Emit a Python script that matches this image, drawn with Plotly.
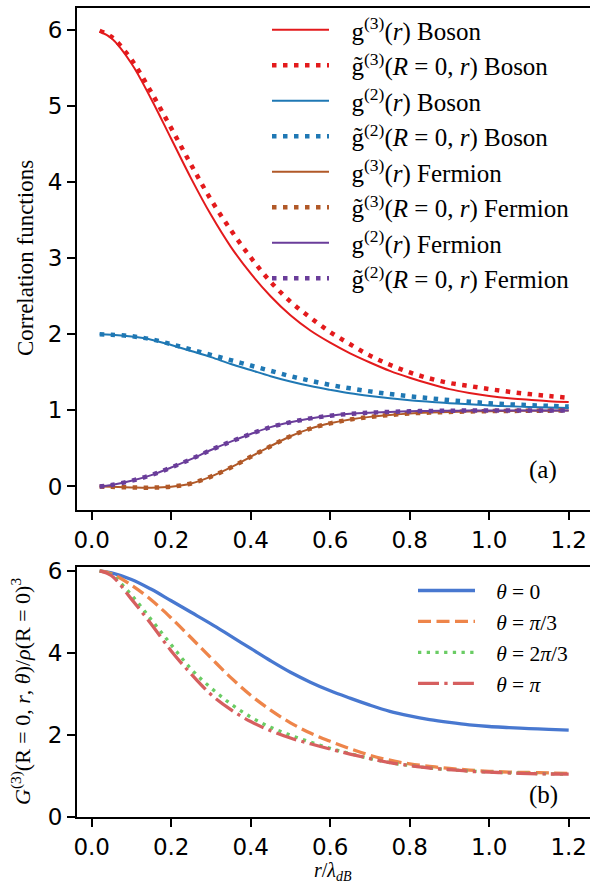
import plotly.graph_objects as go

# ---------------- data ----------------
r = [0.02, 0.05, 0.10, 0.15, 0.20, 0.25, 0.30, 0.35, 0.40, 0.45, 0.50, 0.55, 0.60,
     0.65, 0.70, 0.75, 0.80, 0.85, 0.90, 0.95, 1.00, 1.05, 1.10, 1.15, 1.20]

g3_boson = [5.98, 5.89, 5.56, 5.09, 4.57, 4.05, 3.57, 3.15, 2.80, 2.50, 2.25, 2.05, 1.89,
            1.75, 1.63, 1.52, 1.43, 1.35, 1.28, 1.23, 1.19, 1.16, 1.14, 1.12, 1.11]
g3t_boson = [5.99, 5.91, 5.61, 5.18, 4.71, 4.23, 3.77, 3.37, 3.01, 2.69, 2.43, 2.22, 2.03,
             1.87, 1.72, 1.60, 1.50, 1.42, 1.36, 1.32, 1.28, 1.245, 1.215, 1.19, 1.165]
g2_boson = [2.00, 1.995, 1.97, 1.93, 1.86, 1.78, 1.70, 1.61, 1.53, 1.45, 1.38, 1.32, 1.27,
            1.225, 1.19, 1.16, 1.135, 1.115, 1.095, 1.08, 1.065, 1.055, 1.045, 1.037, 1.03]
g2t_boson = [2.00, 1.995, 1.975, 1.935, 1.87, 1.80, 1.73, 1.66, 1.59, 1.52, 1.45, 1.39, 1.335,
             1.29, 1.25, 1.215, 1.185, 1.16, 1.135, 1.115, 1.095, 1.08, 1.07, 1.06, 1.05]
g3_fermion = [0.0, -0.005, -0.012, -0.015, -0.002, 0.04, 0.13, 0.25, 0.39, 0.53, 0.66, 0.76, 0.83,
              0.88, 0.915, 0.94, 0.96, 0.972, 0.98, 0.986, 0.99, 0.993, 0.995, 0.997, 0.998]
g3t_fermion = [0.0, -0.005, -0.012, -0.015, -0.002, 0.04, 0.13, 0.25, 0.39, 0.53, 0.66, 0.76, 0.83,
               0.88, 0.915, 0.94, 0.96, 0.972, 0.98, 0.986, 0.99, 0.993, 0.995, 0.997, 0.998]
g2_fermion = [0.0, 0.02, 0.075, 0.15, 0.25, 0.36, 0.48, 0.59, 0.69, 0.78, 0.845, 0.895, 0.93,
              0.955, 0.97, 0.98, 0.988, 0.993, 0.996, 0.998, 1.0, 1.0, 1.0, 1.0, 1.0]
g2t_fermion = [0.0, 0.02, 0.075, 0.15, 0.25, 0.36, 0.48, 0.59, 0.69, 0.78, 0.845, 0.895, 0.93,
               0.955, 0.97, 0.98, 0.988, 0.993, 0.996, 0.998, 1.0, 1.0, 1.0, 1.0, 1.0]

G3_theta0 = [6.00, 5.95, 5.79, 5.55, 5.27, 4.99, 4.71, 4.41, 4.11, 3.81, 3.53, 3.29, 3.08,
             2.90, 2.73, 2.58, 2.47, 2.38, 2.31, 2.25, 2.21, 2.185, 2.16, 2.14, 2.12]
G3_theta_pi3 = [6.00, 5.93, 5.65, 5.29, 4.85, 4.37, 3.88, 3.40, 2.97, 2.61, 2.30, 2.05, 1.85,
                1.67, 1.51, 1.39, 1.30, 1.24, 1.19, 1.15, 1.12, 1.10, 1.09, 1.08, 1.07]
G3_theta_2pi3 = [6.00, 5.90, 5.41, 4.81, 4.20, 3.61, 3.15, 2.76, 2.44, 2.19, 2.00, 1.83, 1.68,
                 1.55, 1.43, 1.33, 1.26, 1.20, 1.16, 1.13, 1.10, 1.085, 1.07, 1.06, 1.05]
G3_theta_pi = [6.00, 5.88, 5.31, 4.70, 4.05, 3.49, 2.99, 2.62, 2.33, 2.11, 1.93, 1.79, 1.66,
               1.54, 1.43, 1.33, 1.26, 1.20, 1.16, 1.12, 1.10, 1.08, 1.065, 1.055, 1.05]

NB = "\u00a0\u00a0\u2009"
NB2 = "\u00a0\u00a0\u00a0"
top_names = [
    NB + "g<sup>(3)</sup>(<i>r</i>) Boson",
    NB + "g\u0303<sup>(3)</sup>(<i>R</i> = 0, <i>r</i>) Boson",
    NB + "g<sup>(2)</sup>(<i>r</i>) Boson",
    NB + "g\u0303<sup>(2)</sup>(<i>R</i> = 0, <i>r</i>) Boson",
    NB + "g<sup>(3)</sup>(<i>r</i>) Fermion",
    NB + "g\u0303<sup>(3)</sup>(<i>R</i> = 0, <i>r</i>) Fermion",
    NB + "g<sup>(2)</sup>(<i>r</i>) Fermion",
    NB + "g\u0303<sup>(2)</sup>(<i>R</i> = 0, <i>r</i>) Fermion",
]
bottom_names = [NB2 + "<i>θ</i> = 0", NB2 + "<i>θ</i> = <i>π</i>/3",
                NB2 + "<i>θ</i> = 2<i>π</i>/3", NB2 + "<i>θ</i> = <i>π</i>"]
x_ticks = [0.0, 0.2, 0.4, 0.6, 0.8, 1.0, 1.2]

# ---------------- styles ----------------
RED, BLUE, BROWN, PURPLE = "#e31a1c", "#1f78b4", "#b15928", "#6a3d9a"
M_BLUE, M_ORANGE, M_GREEN, M_RED = "#4878d0", "#ee854a", "#6acc64", "#d65f5f"
DOT = "4.5px,6.5px"

fig = go.Figure()

top_series = [g3_boson, g3t_boson, g2_boson, g2t_boson, g3_fermion, g3t_fermion, g2_fermion, g2t_fermion]
top_colors = [RED, RED, BLUE, BLUE, BROWN, BROWN, PURPLE, PURPLE]
for i, (ys, c, nm) in enumerate(zip(top_series, top_colors, top_names)):
    dotted = i % 2 == 1
    fig.add_trace(go.Scatter(
        x=r, y=ys, mode="lines", name=nm, xaxis="x", yaxis="y",
        line=dict(color=c, width=4.5 if dotted else 2, dash=DOT if dotted else "solid",
                  shape="spline", smoothing=1),
        legend="legend", legendgroup=f"t{i}",
    ))

bot_series = [G3_theta0, G3_theta_pi3, G3_theta_2pi3, G3_theta_pi]
bot_colors = [M_BLUE, M_ORANGE, M_GREEN, M_RED]
bot_dash = ["solid", "13px,5.5px", "3.3px,5.4px", "21px,5.3px,3.3px,5.3px"]
for i, (ys, c, nm, d) in enumerate(zip(bot_series, bot_colors, bottom_names, bot_dash)):
    fig.add_trace(go.Scatter(
        x=r, y=ys, mode="lines", name=nm, xaxis="x2", yaxis="y2",
        line=dict(color=c, width=3.3, dash=d, shape="spline", smoothing=1),
        legend="legend2", legendgroup=f"b{i}",
    ))

H = 886
def py(px):
    return (H - px) / H

def pxx(px):
    return (px - 77) / 513

tick_font = dict(family="DejaVu Sans", size=23, color="black")
axis_common = dict(showline=True, linecolor="black", linewidth=1.8, ticks="outside",
                   ticklen=8, tickwidth=1.6, tickcolor="black", showgrid=False,
                   zeroline=False, tickfont=tick_font, automargin=False)

serif = "Liberation Serif"
fig.update_layout(
    template="none",
    width=590, height=886,
    margin=dict(l=77, r=0, t=0, b=0, autoexpand=False),
    paper_bgcolor="white", plot_bgcolor="white",
    font=dict(family=serif, color="black"),
    xaxis=dict(domain=[0, 1], anchor="y", range=[-0.037, 1.2536], tickvals=x_ticks,
               tickformat=".1f", mirror=True, **axis_common),
    yaxis=dict(domain=[py(510), py(8)], anchor="x", range=[-0.309, 6.289],
               tickvals=[0, 1, 2, 3, 4, 5, 6], **axis_common),
    xaxis2=dict(domain=[0, 1], anchor="y2", range=[-0.037, 1.2536], tickvals=x_ticks,
                tickformat=".1f", mirror=True, **axis_common),
    yaxis2=dict(domain=[py(817.3), py(566.7)], anchor="x2", range=[0, 6.1],
                tickvals=[0, 2, 4, 6], **axis_common),
    legend=dict(x=pxx(267), y=py(7), xanchor="left", yanchor="top",
                font=dict(family=serif, size=25, color="black"),
                bgcolor="rgba(0,0,0,0)", itemwidth=57, tracegroupgap=0, traceorder="normal"),
    legend2=dict(x=pxx(413), y=py(570), xanchor="left", yanchor="top",
                 font=dict(family=serif, size=21.5, color="black"),
                 bgcolor="rgba(0,0,0,0)", itemwidth=57, tracegroupgap=0, traceorder="normal"),
    annotations=[
        dict(text="Correlation functions", xref="paper", yref="paper",
             x=pxx(25), y=py(258), xanchor="center", yanchor="middle", showarrow=False,
             textangle=-90, font=dict(family=serif, size=23, color="black")),
        dict(text="<i>G</i><sup>(3)</sup>(R = 0, <i>r</i>, <i>θ</i>)/<i>ρ</i>(R = 0)<sup>3</sup>",
             xref="paper", yref="paper", x=pxx(21), y=py(692), xanchor="center",
             yanchor="middle", showarrow=False, textangle=-90,
             font=dict(family=serif, size=22, color="black")),
        dict(text="<i>r</i>/<i>λ</i><sub><i>dB</i></sub>", xref="paper", yref="paper",
             x=pxx(333), y=py(871), xanchor="center", yanchor="middle", showarrow=False,
             font=dict(family=serif, size=20, color="black")),
        dict(text="(a)", xref="paper", yref="paper", x=pxx(543), y=py(470),
             xanchor="center", yanchor="middle", showarrow=False,
             font=dict(family=serif, size=25, color="black")),
        dict(text="(b)", xref="paper", yref="paper", x=pxx(543), y=py(795),
             xanchor="center", yanchor="middle", showarrow=False,
             font=dict(family=serif, size=25, color="black")),
    ],
)

fig.write_html("out.html", config={"displayModeBar": False},
               post_script="document.body.style.margin='0px';")
